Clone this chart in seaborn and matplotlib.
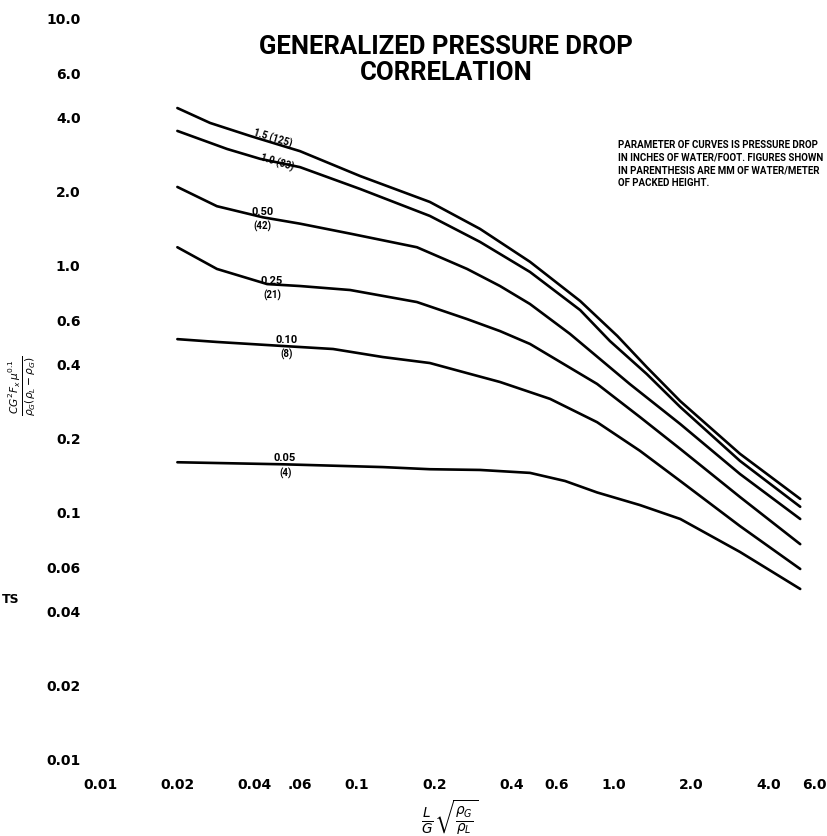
#_*_ coding:utf-8 _*_
# generalized pressure drop correlation (scanned chart redrawn)
import numpy as np
import pandas as pd
import matplotlib
matplotlib.use("Agg")
import matplotlib.pyplot as plt
import seaborn as sns

# curve parameters: pressure drop in inches water/ft, (mm water/m)
curveNames = ["1.5", "1.0", "0.50", "0.25", "0.10", "0.05"]
curveMM = ["(125)", "(83)", "(42)", "(21)", "(8)", "(4)"]

# points, flow parameter (x) and capacity parameter (y)
x_150 = [0.02, 0.0268, 0.0384, 0.060, 0.103, 0.192, 0.301, 0.471, 0.738, 1.03, 1.34, 1.81, 3.09, 5.3]
y_150 = [4.32, 3.76, 3.33, 2.89, 2.29, 1.80, 1.40, 1.03, 0.715, 0.516, 0.386, 0.281, 0.172, 0.113]
x_100 = [0.02, 0.0312, 0.042, 0.060, 0.103, 0.192, 0.301, 0.471, 0.738, 0.964, 1.34, 1.81, 3.09, 5.3]
y_100 = [3.49, 2.95, 2.69, 2.49, 2.03, 1.58, 1.24, 0.937, 0.657, 0.492, 0.362, 0.266, 0.161, 0.105]
x_050 = [0.02, 0.0285, 0.043, 0.060, 0.094, 0.171, 0.268, 0.360, 0.471, 0.674, 1.15, 1.81, 3.09, 5.3]
y_050 = [2.07, 1.73, 1.56, 1.47, 1.34, 1.18, 0.964, 0.822, 0.695, 0.526, 0.330, 0.227, 0.1425, 0.0937]
x_025 = [0.02, 0.0285, 0.0447, 0.060, 0.094, 0.171, 0.268, 0.360, 0.471, 0.859, 1.26, 1.81, 3.09, 5.3]
y_025 = [1.18, 0.964, 0.837, 0.822, 0.792, 0.708, 0.604, 0.540, 0.479, 0.330, 0.2425, 0.180, 0.115, 0.0741]
x_010 = [0.02, 0.0285, 0.0515, 0.0807, 0.126, 0.192, 0.268, 0.360, 0.564, 0.859, 1.26, 1.81, 3.09, 5.3]
y_010 = [0.501, 0.488, 0.470, 0.457, 0.424, 0.401, 0.365, 0.336, 0.287, 0.231, 0.177, 0.1335, 0.0877, 0.0588]
x_005 = [0.02, 0.0515, 0.126, 0.192, 0.301, 0.471, 0.645, 0.859, 1.26, 1.81, 3.09, 5.3]
y_005 = [0.159, 0.156, 0.152, 0.149, 0.148, 0.144, 0.1335, 0.120, 0.1067, 0.0937, 0.0689, 0.0488]

xTicks = [0.01, 0.02, 0.04, 0.06, 0.1, 0.2, 0.4, 0.6, 1.0, 2.0, 4.0, 6.0]
xTickLabels = ["0.01", "0.02", "0.04", ".06", "0.1", "0.2", "0.4", "0.6", "1.0", "2.0", "4.0", "6.0"]
yTicks = [0.01, 0.02, 0.04, 0.06, 0.1, 0.2, 0.4, 0.6, 1.0, 2.0, 4.0, 6.0, 10.0]
yTickLabels = ["0.01", "0.02", "0.04", "0.06", "0.1", "0.2", "0.4", "0.6", "1.0", "2.0", "4.0", "6.0", "10.0"]

# label anchor per curve (number on the line, mm value under it)
labX = [0.0471, 0.0489, 0.043, 0.0467, 0.053, 0.0525]
labY = [3.30, 2.61, 1.65, 0.869, 0.501, 0.167]
mmY = [None, None, 1.45, 0.763, 0.44, 0.145]

titleText = "GENERALIZED PRESSURE DROP\nCORRELATION"
noteText = ("PARAMETER OF CURVES IS PRESSURE DROP\n"
            "IN INCHES OF WATER/FOOT. FIGURES SHOWN\n"
            "IN PARENTHESIS ARE MM OF WATER/METER\n"
            "OF PACKED HEIGHT.")

sns.set_theme(style="white")
plt.rcParams['font.family'] = ['DejaVu Sans']
plt.rcParams['text.color'] = 'black'
plt.rcParams['axes.labelcolor'] = 'black'
plt.rcParams['xtick.color'] = 'black'
plt.rcParams['ytick.color'] = 'black'
narrow = ['Roboto', 'DejaVu Sans']

xs = [x_150, x_100, x_050, x_025, x_010, x_005]
ys = [y_150, y_100, y_050, y_025, y_010, y_005]
frames = []
for name, xv, yv in zip(curveNames, xs, ys):
    frames.append(pd.DataFrame({"x": xv, "y": yv, "curve": name}))
df = pd.concat(frames, ignore_index=True)

W, H = 828, 837
fig = plt.figure(figsize=(W / 100, H / 100), dpi=100)
ax = fig.add_axes([100 / W, 1 - 760 / H, 723 / W, 741 / H])

sns.lineplot(data=df, x="x", y="y", hue="curve", units="curve", estimator=None,
             palette=["black"] * 6, linewidth=1.9, legend=False, sort=False, ax=ax)
for ln in ax.get_lines():
    ln.set_solid_joinstyle("round")

ax.set_xscale("log")
ax.set_yscale("log")
ax.set_xlim(0.01, 6.5)
ax.set_ylim(0.01, 10.0)
ax.set_xticks(xTicks)
ax.set_xticklabels(xTickLabels)
ax.set_yticks(yTicks)
ax.set_yticklabels(yTickLabels)
ax.minorticks_off()
ax.tick_params(axis="x", length=0, pad=13, labelsize=10)
ax.tick_params(axis="y", length=0, pad=14, labelsize=10)
for lab in ax.get_xticklabels() + ax.get_yticklabels():
    lab.set_fontweight("bold")
for s in ax.spines.values():
    s.set_visible(False)
ax.grid(False)

ax.set_xlabel(r"$\frac{L}{G}\sqrt{\frac{\rho_G}{\rho_L}}$", fontsize=14)
ax.xaxis.set_label_coords(0.484, -0.05)
ax.set_ylabel(r"$\frac{CG^2F_x\,\mu^{0.1}}{\rho_G(\rho_L-\rho_G)}$", fontsize=11)
ax.yaxis.set_label_coords(-0.086, 0.505)

# curve labels
rots = [-17, -17, 0, 0, 0, 0]
for i in range(6):
    if mmY[i] is None:
        ax.text(labX[i], labY[i], curveNames[i] + " " + curveMM[i], fontsize=7,
                fontweight="bold", family=narrow, rotation=rots[i],
                ha="center", va="center")
    else:
        ax.text(labX[i], labY[i], curveNames[i], fontsize=8, fontweight="bold",
                family=narrow, ha="center", va="center")
        ax.text(labX[i], mmY[i], curveMM[i], fontsize=7, fontweight="bold",
                family=narrow, ha="center", va="center")

fig.text(446 / W, 1 - 35 / H, titleText, ha="center", va="top", fontsize=18.5,
         fontweight="bold", family=narrow, linespacing=1.1)
fig.text(618 / W, 1 - 140 / H, noteText, ha="left", va="top", fontsize=7,
         fontweight="bold", family=narrow, linespacing=1.35)
fig.text(2 / W, 1 - 600 / H, "TS", ha="left", va="center", fontsize=9,
         fontweight="bold")

plt.savefig("out.png", dpi=100)
